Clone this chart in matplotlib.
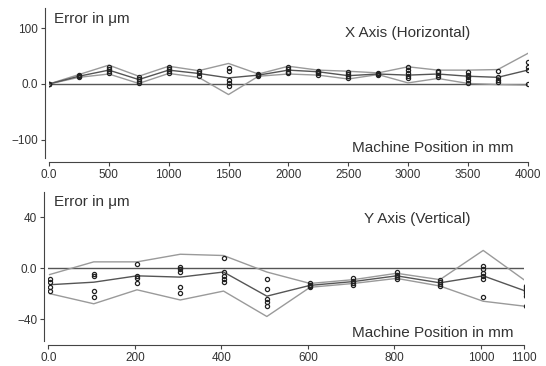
import matplotlib
matplotlib.use("Agg")
from matplotlib import pyplot as plt

matplotlib.rc('font', family=['Liberation Sans', 'DejaVu Sans'])

# X axis (horizontal) data, micrometres
x_pos = [0, 250, 500, 750, 1000, 1250, 1500, 1750, 2000, 2250, 2500, 2750,
         3000, 3250, 3500, 3750, 4000]
x_upper = [0, 17, 34, 14, 32, 24, 37, 18, 32, 25, 23, 20, 31, 25, 25, 26, 55]
x_mean = [0, 14, 25, 8, 25, 19, 11, 16, 25, 22, 15, 18, 16, 18, 14, 12, 25]
x_lower = [0, 12, 18, 1, 19, 12, -19, 14, 18, 16, 9, 17, 2, 10, 1, -1, -2]
x_points = [
    [0, 0, 0],
    [16, 14, 13],
    [31, 27, 23, 19],
    [13, 9, 5, 2],
    [31, 27, 23, 20],
    [23, 20, 15],
    [29, 23, 8, 2, -4],
    [18, 16, 15],
    [31, 27, 22, 19],
    [24, 22, 19, 17],
    [22, 18, 15, 11],
    [20, 18, 16],
    [30, 26, 20, 15, 10],
    [24, 21, 17, 13],
    [22, 17, 13, 7, 2],
    [24, 12, 8, 3],
    [40, 30, 25, 0],
]

# Y axis (vertical) data, micrometres
y_pos = [3, 105, 205, 305, 405, 505, 605, 705, 805, 905, 1005, 1103]
y_upper = [-5, 5, 5, 11, 10, -3, -12, -9, -4, -9, 14, -10]
y_mean = [-13, -11, -6, -7, -3, -22, -13.5, -10.5, -6, -11.5, -6, -18]
y_lower = [-20, -28, -17, -25, -18, -38, -15, -12, -8, -14, -26, -30]
y_points = [
    [-8.6, -11, -15, -18],
    [-4.4, -6.5, -18, -23],
    [3.4, -6, -8, -12],
    [1.3, -0.3, -2.6, -15, -19.5],
    [8, -2.6, -6.5, -8.6, -10.6],
    [-8.6, -16.4, -24, -26.8, -30],
    [-12, -13, -14, -15],
    [-8, -10, -11.5, -13],
    [-3, -5, -7, -8.5],
    [-9.5, -11, -12.5, -14],
    [1.9, -0.8, -3.9, -6.5, -8.6, -22.6],
    [-13.8, -15.6, -17.7, -19.5, -21.6, -29.4],
]

W, H = 546, 366
fig = plt.figure(figsize=(W / 100, H / 100), dpi=100)

txt_col = '#333333'
axis_col = '#444444'


def px_axes(left, right, top, bottom):
    return fig.add_axes([left / W, 1 - bottom / H, (right - left) / W, (bottom - top) / H])


def draw_panel(ax, pos, upper, mean, lower, points, xticks, xlabels, yticks, ylabels):
    ax.axhline(0, color='#555555', lw=1.0, zorder=1)
    ax.plot(pos, upper, color='#9a9a9a', lw=1.0, zorder=2)
    ax.plot(pos, lower, color='#9a9a9a', lw=1.0, zorder=2)
    ax.plot(pos, mean, color='#555555', lw=1.0, zorder=3)
    for p, vals in zip(pos, points):
        ax.plot([p] * len(vals), vals, ls='', marker='o', ms=3.0, mfc='none',
                mec='#222222', mew=0.9, zorder=4)
    for side in ['top', 'right']:
        ax.spines[side].set_visible(False)
    ax.spines['left'].set_position(('outward', 3))
    ax.spines['bottom'].set_position(('outward', 3))
    ax.spines['left'].set_color(axis_col)
    ax.spines['bottom'].set_color(axis_col)
    ax.spines['bottom'].set_bounds(xticks[0], xticks[-1])
    ax.set_xticks(xticks)
    ax.set_xticklabels(xlabels)
    ax.set_yticks(yticks)
    ax.set_yticklabels(ylabels)
    ax.tick_params(colors=axis_col, labelcolor=txt_col, labelsize=8.5, length=3,
                   width=0.8, pad=2)


# top panel
ax1 = px_axes(49, 527.7, 8, 158)
ax1.set_xlim(0, 4000)
ax1.set_ylim(-133.3, 136.9)
draw_panel(ax1, x_pos, x_upper, x_mean, x_lower, x_points,
           list(range(0, 4001, 500)), ['0.0'] + [str(v) for v in range(500, 4001, 500)],
           [-100, 0, 100], ['\u2212100', '0.0', '100'])

# bottom panel
ax2 = px_axes(48.3, 524.3, 192, 341)
ax2.set_xlim(0, 1100)
ax2.set_ylim(-57.3, 60)
draw_panel(ax2, y_pos, y_upper, y_mean, y_lower, y_points,
           [0, 200, 400, 600, 800, 1000, 1100], ['0.0', '200', '400', '600', '800', '1000', '1100'],
           [-40, 0, 40], ['\u221240', '0.0', '40'])


def ftext(x, y, s, ha='left'):
    fig.text(x / W, 1 - y / H, s, ha=ha, va='baseline', fontsize=11, color=txt_col)


ftext(54, 23, 'Error in \u03bcm')
ftext(408, 37, 'X Axis (Horizontal)', ha='center')
ftext(514, 152, 'Machine Position in mm', ha='right')

ftext(54, 206, 'Error in \u03bcm')
ftext(417, 223, 'Y Axis (Vertical)', ha='center')
ftext(514, 337, 'Machine Position in mm', ha='right')

fig.savefig('out.png', dpi=100)
